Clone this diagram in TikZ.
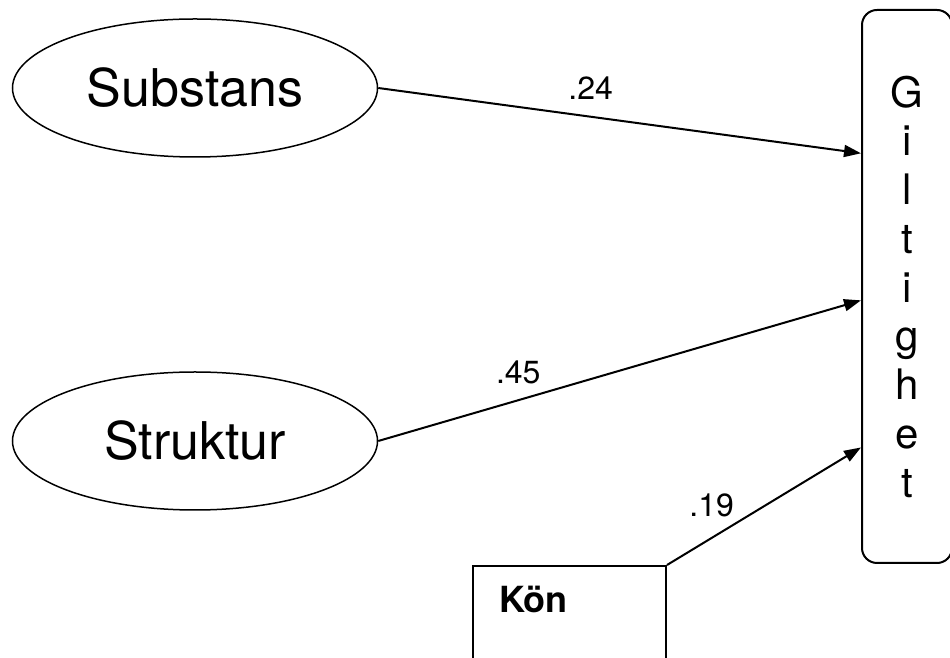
\documentclass[tikz,border=0pt]{standalone}
\usepackage{fontspec}
\setmainfont{TeX Gyre Heros}
\usetikzlibrary{arrows.meta, positioning, calc, shapes.geometric}

\begin{document}
\begin{tikzpicture}[x=1pt, y=1pt, >={Triangle[length=17pt, width=12pt]}, line width=2pt,
  latent/.style={draw, ellipse, line width=1.5pt, minimum width=365pt, minimum height=138pt, inner sep=0pt, font=\fontsize{52}{60}\selectfont},
  outcome/.style={draw, line width=2pt, rounded corners=15pt, minimum width=90pt, minimum height=553pt, inner sep=0pt, align=center, font=\fontsize{42}{48.75}\selectfont},
  observed/.style={draw, line width=2pt, anchor=north west, minimum width=193pt, minimum height=120pt},
  coef/.style={font=\fontsize{32}{36}\selectfont, inner sep=0pt},
  effect/.style={->, line width=2pt}]

% Canvas
\useasboundingbox (0,0) rectangle (950,658);

% Latent factors
\node[latent] (subst) at (195,570) {Substans};
\node[latent] (strukt) at (195,217) {Struktur};

% Outcome box
\node[outcome] (gilt) at (907,371.5) {G\\i\\l\\t\\i\\g\\h\\e\\t};

% Observed variable
\node[observed] (kon) at (472,93) {};
\node[font=\fontsize{36}{40}\selectfont\bfseries, anchor=base west, inner sep=0pt] (konlabel) at (498,45) {Kön};

% Paths
\draw[effect] (subst.east) -- node[coef, pos=0.44, above=16pt] (c24) {.24} ($(gilt.north west)!0.26!(gilt.south west)$);
\draw[effect] (strukt.east) -- node[coef, pos=0.29, above=15pt] (c45) {.45} ($(gilt.north west)!0.525!(gilt.south west)$);
\draw[effect] (kon.north east) -- node[coef, pos=0.23, above=20pt] (c19) {.19} ($(gilt.north west)!0.79!(gilt.south west)$);

\end{tikzpicture}
\end{document}
